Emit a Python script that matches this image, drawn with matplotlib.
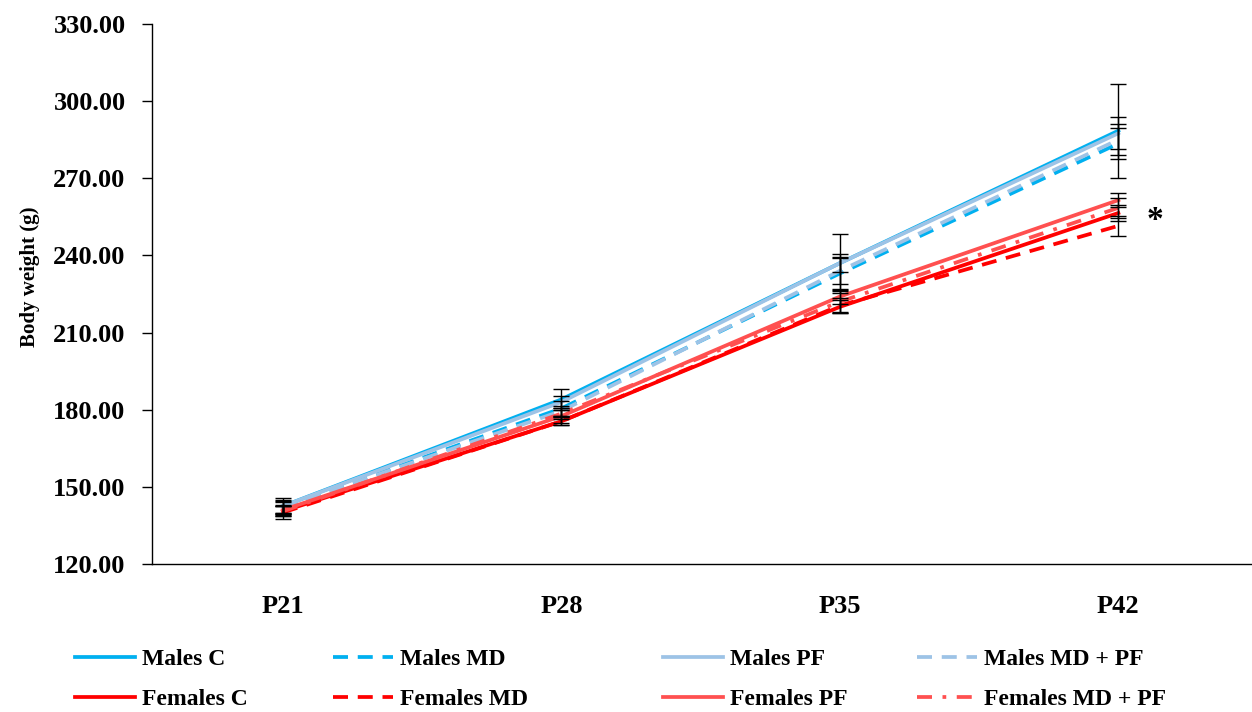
import numpy as np
import matplotlib
matplotlib.use("Agg")
import matplotlib.pyplot as plt

plt.rcParams['font.family'] = ['Liberation Serif', 'DejaVu Serif']
plt.rcParams['font.weight'] = 'bold'

days = ["P21", "P28", "P35", "P42"]

males_c = [142.5, 184.0, 237.0, 288.5]
males_md = [142.0, 180.5, 233.0, 283.5]
males_pf = [142.5, 183.0, 237.0, 287.5]
males_mdpf = [142.0, 179.5, 234.0, 285.0]
females_c = [140.5, 175.5, 220.0, 256.5]
females_md = [140.0, 175.5, 220.5, 251.5]
females_pf = [141.0, 177.5, 224.0, 261.5]
females_mdpf = [140.5, 178.5, 222.0, 258.5]

err_males_c = [3.0, 4.0, 11.5, 18.2]
err_males_md = [2.5, 3.0, 6.5, 6.0]
err_males_pf = [2.5, 2.5, 3.5, 6.2]
err_males_mdpf = [2.0, 2.0, 5.0, 6.0]
err_females_c = [2.0, 1.5, 2.5, 3.2]
err_females_md = [2.5, 1.5, 3.0, 3.8]
err_females_pf = [2.0, 2.5, 3.0, 2.8]
err_females_mdpf = [2.0, 2.0, 4.0, 4.0]

labels = ["Males C", "Males MD", "Males PF", "Males MD + PF",
          "Females C", "Females MD", "Females PF", "Females MD + PF"]
series = [males_c, males_md, males_pf, males_mdpf,
          females_c, females_md, females_pf, females_mdpf]
errors = [err_males_c, err_males_md, err_males_pf, err_males_mdpf,
          err_females_c, err_females_md, err_females_pf, err_females_mdpf]

blue = "#00B0F0"
lblue = "#9DC3E6"
red = "#FF0000"
lred = "#FF5050"
dash = (0, (4, 2.6))
dashdot = (0, (4, 2.8, 1, 2.8))
colors = [blue, blue, lblue, lblue, red, red, lred, lred]
styles = ["-", dash, "-", dash, "-", dash, "-", dashdot]

fig = plt.figure(figsize=(12.52, 7.12), dpi=100)
ax = fig.add_axes([152 / 1252, 1 - 564 / 712, 1100 / 1252, 540 / 712])

x = np.arange(len(days))
handles = []
for vals, c, ls, lab in zip(series, colors, styles, labels):
    h, = ax.plot(x, vals, color=c, linestyle=ls, linewidth=2.7, label=lab)
    handles.append(h)

for vals, err in zip(series, errors):
    ax.errorbar(x, vals, yerr=err, fmt="none", ecolor="black",
                elinewidth=1, capsize=6, capthick=1, zorder=5)

# significance mark at P42
ax.text(3.13, 253.5, "*", fontsize=24, ha="center", va="center")

ax.set_xlim(-0.47, 3.48)
ax.set_ylim(120, 330)
ax.set_yticks(np.arange(120, 331, 30))
ax.set_yticklabels([f"{v:.2f}" for v in np.arange(120, 331, 30)])
ax.set_xticks(x)
ax.set_xticklabels(days)
ax.tick_params(axis="y", length=7, width=1, pad=12, labelsize=19)
ax.tick_params(axis="x", length=0, pad=22, labelsize=19)
for s in ["top", "right"]:
    ax.spines[s].set_visible(False)
ax.spines["left"].set_linewidth(1)
ax.spines["bottom"].set_linewidth(1)

fig.text(0.024, 0.612, "Body weight (g)", rotation=90, fontsize=15,
         ha="center", va="center")

col_x = [75, 333, 663, 917]
for i, cx in enumerate(col_x):
    fig.legend([handles[i], handles[i + 4]], [labels[i], labels[i + 4]],
               loc="center left", bbox_to_anchor=(cx / 1252, 1 - 679.5 / 712),
               frameon=False, fontsize=17, handlelength=2.55,
               handletextpad=0.3, labelspacing=0.78, borderpad=0,
               borderaxespad=0)

fig.savefig("out.png", dpi=100)
